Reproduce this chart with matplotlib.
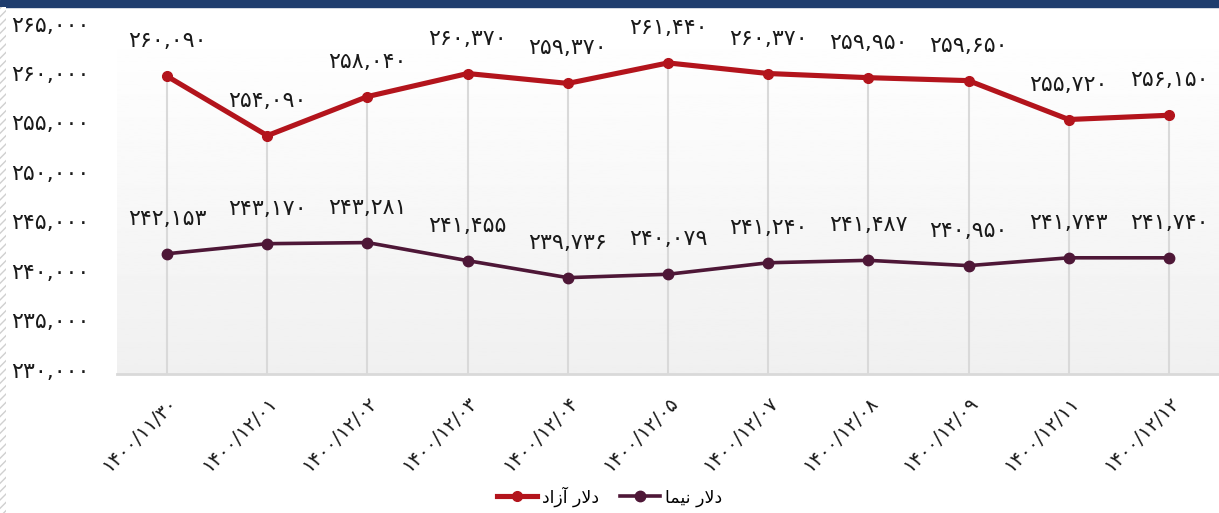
import numpy as np
import matplotlib.pyplot as plt
import matplotlib.transforms as mtransforms
from matplotlib.patches import Rectangle

plt.rcParams['font.family'] = ['DejaVu Sans']

#Dates (Persian calendar) and prices
dates = ["1400/11/30", "1400/12/01", "1400/12/02", "1400/12/03", "1400/12/04", "1400/12/05",
         "1400/12/07", "1400/12/08", "1400/12/09", "1400/12/11", "1400/12/12"]
azad = [260090, 254090, 258040, 260370, 259370, 261440, 260370, 259950, 259650, 255720, 256150]
nima = [242153, 243170, 243281, 241455, 239736, 240079, 241240, 241487, 240950, 241743, 241740]
yticks = [230000, 235000, 240000, 245000, 250000, 255000, 260000, 265000]

#Legend names, already shaped and in visual order (matplotlib has no bidi)
name_azad = "\uFEA9\uFE8D\uFEAF\uFE81 \uFEAD\uFEFB\uFEA9"
name_nima = "\uFE8E\uFEE4\uFEF4\uFEE7 \uFEAD\uFEFB\uFEA9"

red = '#b3141c'
purple = '#4e1737'

def fa(s):
    return str(s).translate(str.maketrans("0123456789", "۰۱۲۳۴۵۶۷۸۹"))

def fa_num(v):
    return fa(f"{v:,}")

fig = plt.figure(figsize=(12.19, 5.13), dpi=100)
ax = fig.add_axes([0.096, 0.271, 0.904, 0.675])

x = np.arange(len(dates))

#background gradient of the plot area
grad = np.linspace(0.94, 1.0, 256).reshape(-1, 1)
ax.imshow(grad, cmap='gray', vmin=0, vmax=1, extent=[0, 1, 0, 1], transform=ax.transAxes,
          aspect='auto', zorder=0, origin='lower')

#drop lines
ax.vlines(x, yticks[0], azad, color='#d9d9d9', lw=1.5, zorder=1)

ax.plot(x, azad, '-o', color=red, lw=3.7, ms=7, label=name_azad, zorder=3)
ax.plot(x, nima, '-o', color=purple, lw=2.6, ms=7.5, label=name_nima, zorder=3)

for xi, v in zip(x, azad):
    ax.annotate(fa_num(v), (xi, v), xytext=(0, 18), textcoords='offset points',
                ha='center', va='bottom', fontsize=16, color='#1a1a1a')
for xi, v in zip(x, nima):
    ax.annotate(fa_num(v), (xi, v), xytext=(0, 18), textcoords='offset points',
                ha='center', va='bottom', fontsize=16, color='#1a1a1a')

ax.set_xlim(-0.5, len(dates) - 0.5)
ax.set_ylim(yticks[0], yticks[-1])
ax.set_yticks(yticks)
ax.set_yticklabels([fa_num(v) for v in yticks], fontsize=16, color='#1a1a1a')
ax.set_xticks(x)
ax.set_xticklabels([fa(d) for d in dates], rotation=45, ha='right', rotation_mode='anchor',
                   fontsize=14, color='#1a1a1a')
ax.tick_params(axis='y', length=0, pad=20)
ax.tick_params(axis='x', length=0, pad=14)

#y labels sit a little high in the original
shift = mtransforms.ScaledTranslation(0, 3 / 72, fig.dpi_scale_trans)
for lab in ax.get_yticklabels():
    lab.set_transform(lab.get_transform() + shift)

for s in ['top', 'right', 'left']:
    ax.spines[s].set_visible(False)
ax.spines['bottom'].set_color('#d9d9d9')
ax.spines['bottom'].set_linewidth(2)

fig.legend(*ax.get_legend_handles_labels(), loc='center', bbox_to_anchor=(0.5, 0.032),
           ncol=2, frameon=False, fontsize=12.5, handlelength=2.3, columnspacing=1.2,
           handletextpad=0.3)

#top banner and hatched left edge
fig.patches.append(Rectangle((0, 0.986), 1, 0.014, transform=fig.transFigure,
                             color='#1f3d6e', zorder=5))
fig.patches.append(Rectangle((0, 0), 0.005, 0.986, transform=fig.transFigure,
                             facecolor='white', edgecolor='#d0d0d0', hatch='////', lw=0, zorder=5))

fig.savefig('out.png', dpi=100)
